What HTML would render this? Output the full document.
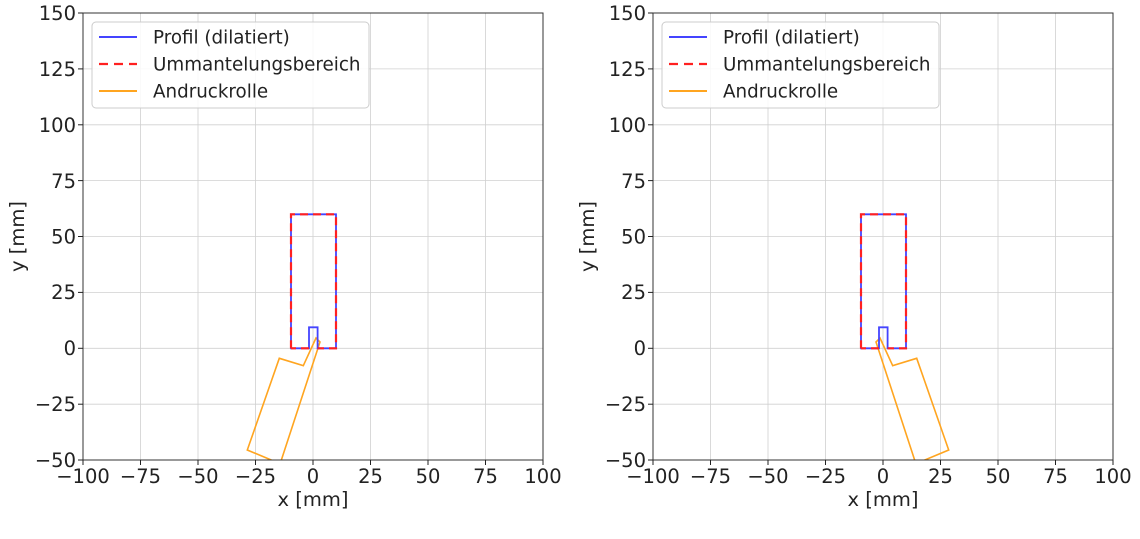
<!DOCTYPE html><html><head><style>body{margin:0;background:#fff}svg{font-family:"DejaVu Sans","Liberation Sans",sans-serif}</style></head><body>
<svg width="1140" height="534" viewBox="0 0 1140 534" xmlns="http://www.w3.org/2000/svg">
<defs>
<clipPath id="c1"><rect x="83" y="13" width="460" height="447"/></clipPath>
<clipPath id="c2"><rect x="653" y="13" width="460" height="447"/></clipPath>
<g id="grid" stroke="#d0d0d0" stroke-width="0.8">
<line x1="140.5" y1="13" x2="140.5" y2="460"/><line x1="198" y1="13" x2="198" y2="460"/><line x1="255.5" y1="13" x2="255.5" y2="460"/><line x1="313" y1="13" x2="313" y2="460"/><line x1="370.5" y1="13" x2="370.5" y2="460"/><line x1="428" y1="13" x2="428" y2="460"/><line x1="485.5" y1="13" x2="485.5" y2="460"/>
<line x1="83" y1="68.9" x2="543" y2="68.9"/><line x1="83" y1="124.8" x2="543" y2="124.8"/><line x1="83" y1="180.6" x2="543" y2="180.6"/><line x1="83" y1="236.5" x2="543" y2="236.5"/><line x1="83" y1="292.4" x2="543" y2="292.4"/><line x1="83" y1="348.3" x2="543" y2="348.3"/><line x1="83" y1="404.2" x2="543" y2="404.2"/>
</g>
<g id="ticks" font-size="19.5" fill="#222">
<g text-anchor="end"><text x="76" y="20">150</text><text x="76" y="76">125</text><text x="76" y="132">100</text><text x="76" y="188">75</text><text x="76" y="243.5">50</text><text x="76" y="299">25</text><text x="76" y="355">0</text><text x="76" y="411">−25</text><text x="76" y="467">−50</text></g>
<g text-anchor="middle"><text x="83" y="483">−100</text><text x="140.5" y="483">−75</text><text x="198" y="483">−50</text><text x="255.5" y="483">−25</text><text x="313" y="483">0</text><text x="370.5" y="483">25</text><text x="428" y="483">50</text><text x="485.5" y="483">75</text><text x="543" y="483">100</text></g>
<text x="313" y="506" text-anchor="middle">x [mm]</text>
<text transform="translate(24,236.5) rotate(-90)" text-anchor="middle">y [mm]</text>
<g stroke="#222" stroke-width="1"><line x1="78" y1="13" x2="83" y2="13"/><line x1="78" y1="68.9" x2="83" y2="68.9"/><line x1="78" y1="124.8" x2="83" y2="124.8"/><line x1="78" y1="180.6" x2="83" y2="180.6"/><line x1="78" y1="236.5" x2="83" y2="236.5"/><line x1="78" y1="292.4" x2="83" y2="292.4"/><line x1="78" y1="348.3" x2="83" y2="348.3"/><line x1="78" y1="404.2" x2="83" y2="404.2"/><line x1="78" y1="460" x2="83" y2="460"/>
<line x1="83" y1="460" x2="83" y2="465"/><line x1="140.5" y1="460" x2="140.5" y2="465"/><line x1="198" y1="460" x2="198" y2="465"/><line x1="255.5" y1="460" x2="255.5" y2="465"/><line x1="313" y1="460" x2="313" y2="465"/><line x1="370.5" y1="460" x2="370.5" y2="465"/><line x1="428" y1="460" x2="428" y2="465"/><line x1="485.5" y1="460" x2="485.5" y2="465"/><line x1="543" y1="460" x2="543" y2="465"/></g>
</g>
<g id="prof" fill="none" stroke-width="2">
<path d="M291,348.3 L291,214.3 L336,214.3 L336,348.3 L317.6,348.3 L317.6,327.3 L309,327.3 L309,348.3 Z" stroke="#4444ff" stroke-width="1.8"/>
<path d="M291,348.3 L291,214.3 L336,214.3 L336,348.3 L317.6,348.3 M309,348.3 L291,348.3" stroke="#ff2020" stroke-width="2.2" stroke-dasharray="8,5"/>
</g>
<g id="legend" font-size="18.3" fill="#222">
<rect x="92" y="22" width="277" height="86" rx="4" fill="#fff" fill-opacity="0.85" stroke="#ccc"/>
<line x1="99" y1="37" x2="137" y2="37" stroke="#4444ff" stroke-width="2"/>
<line x1="99" y1="64" x2="137" y2="64" stroke="#ff2020" stroke-width="2.2" stroke-dasharray="9,6"/>
<line x1="99" y1="91" x2="137" y2="91" stroke="#ffa520" stroke-width="2"/>
<text x="153" y="43.5">Profil (dilatiert)</text><text x="153" y="70.5">Ummantelungsbereich</text><text x="153" y="97.5">Andruckrolle</text>
</g>
</defs>
<use href="#grid"/>
<g clip-path="url(#c1)"><polygon points="316,338 303.3,365.7 279.3,358.3 247.3,450 276,462 280.7,462 320,342" fill="none" stroke="#ffa520" stroke-width="1.6"/></g>
<use href="#prof"/>
<rect x="83" y="13" width="460" height="447" fill="none" stroke="#333" stroke-width="1"/>
<use href="#ticks"/><use href="#legend"/>
<g transform="translate(570,0)"><use href="#grid"/></g>
<g clip-path="url(#c2)"><polygon points="880,338 892.7,365.7 916.7,358.3 948.7,450 920,462 915.3,462 876,342" fill="none" stroke="#ffa520" stroke-width="1.6"/></g>
<g transform="translate(570,0)"><use href="#prof"/>
<rect x="83" y="13" width="460" height="447" fill="none" stroke="#333" stroke-width="1"/>
<use href="#ticks"/><use href="#legend"/></g>
</svg></body></html>
